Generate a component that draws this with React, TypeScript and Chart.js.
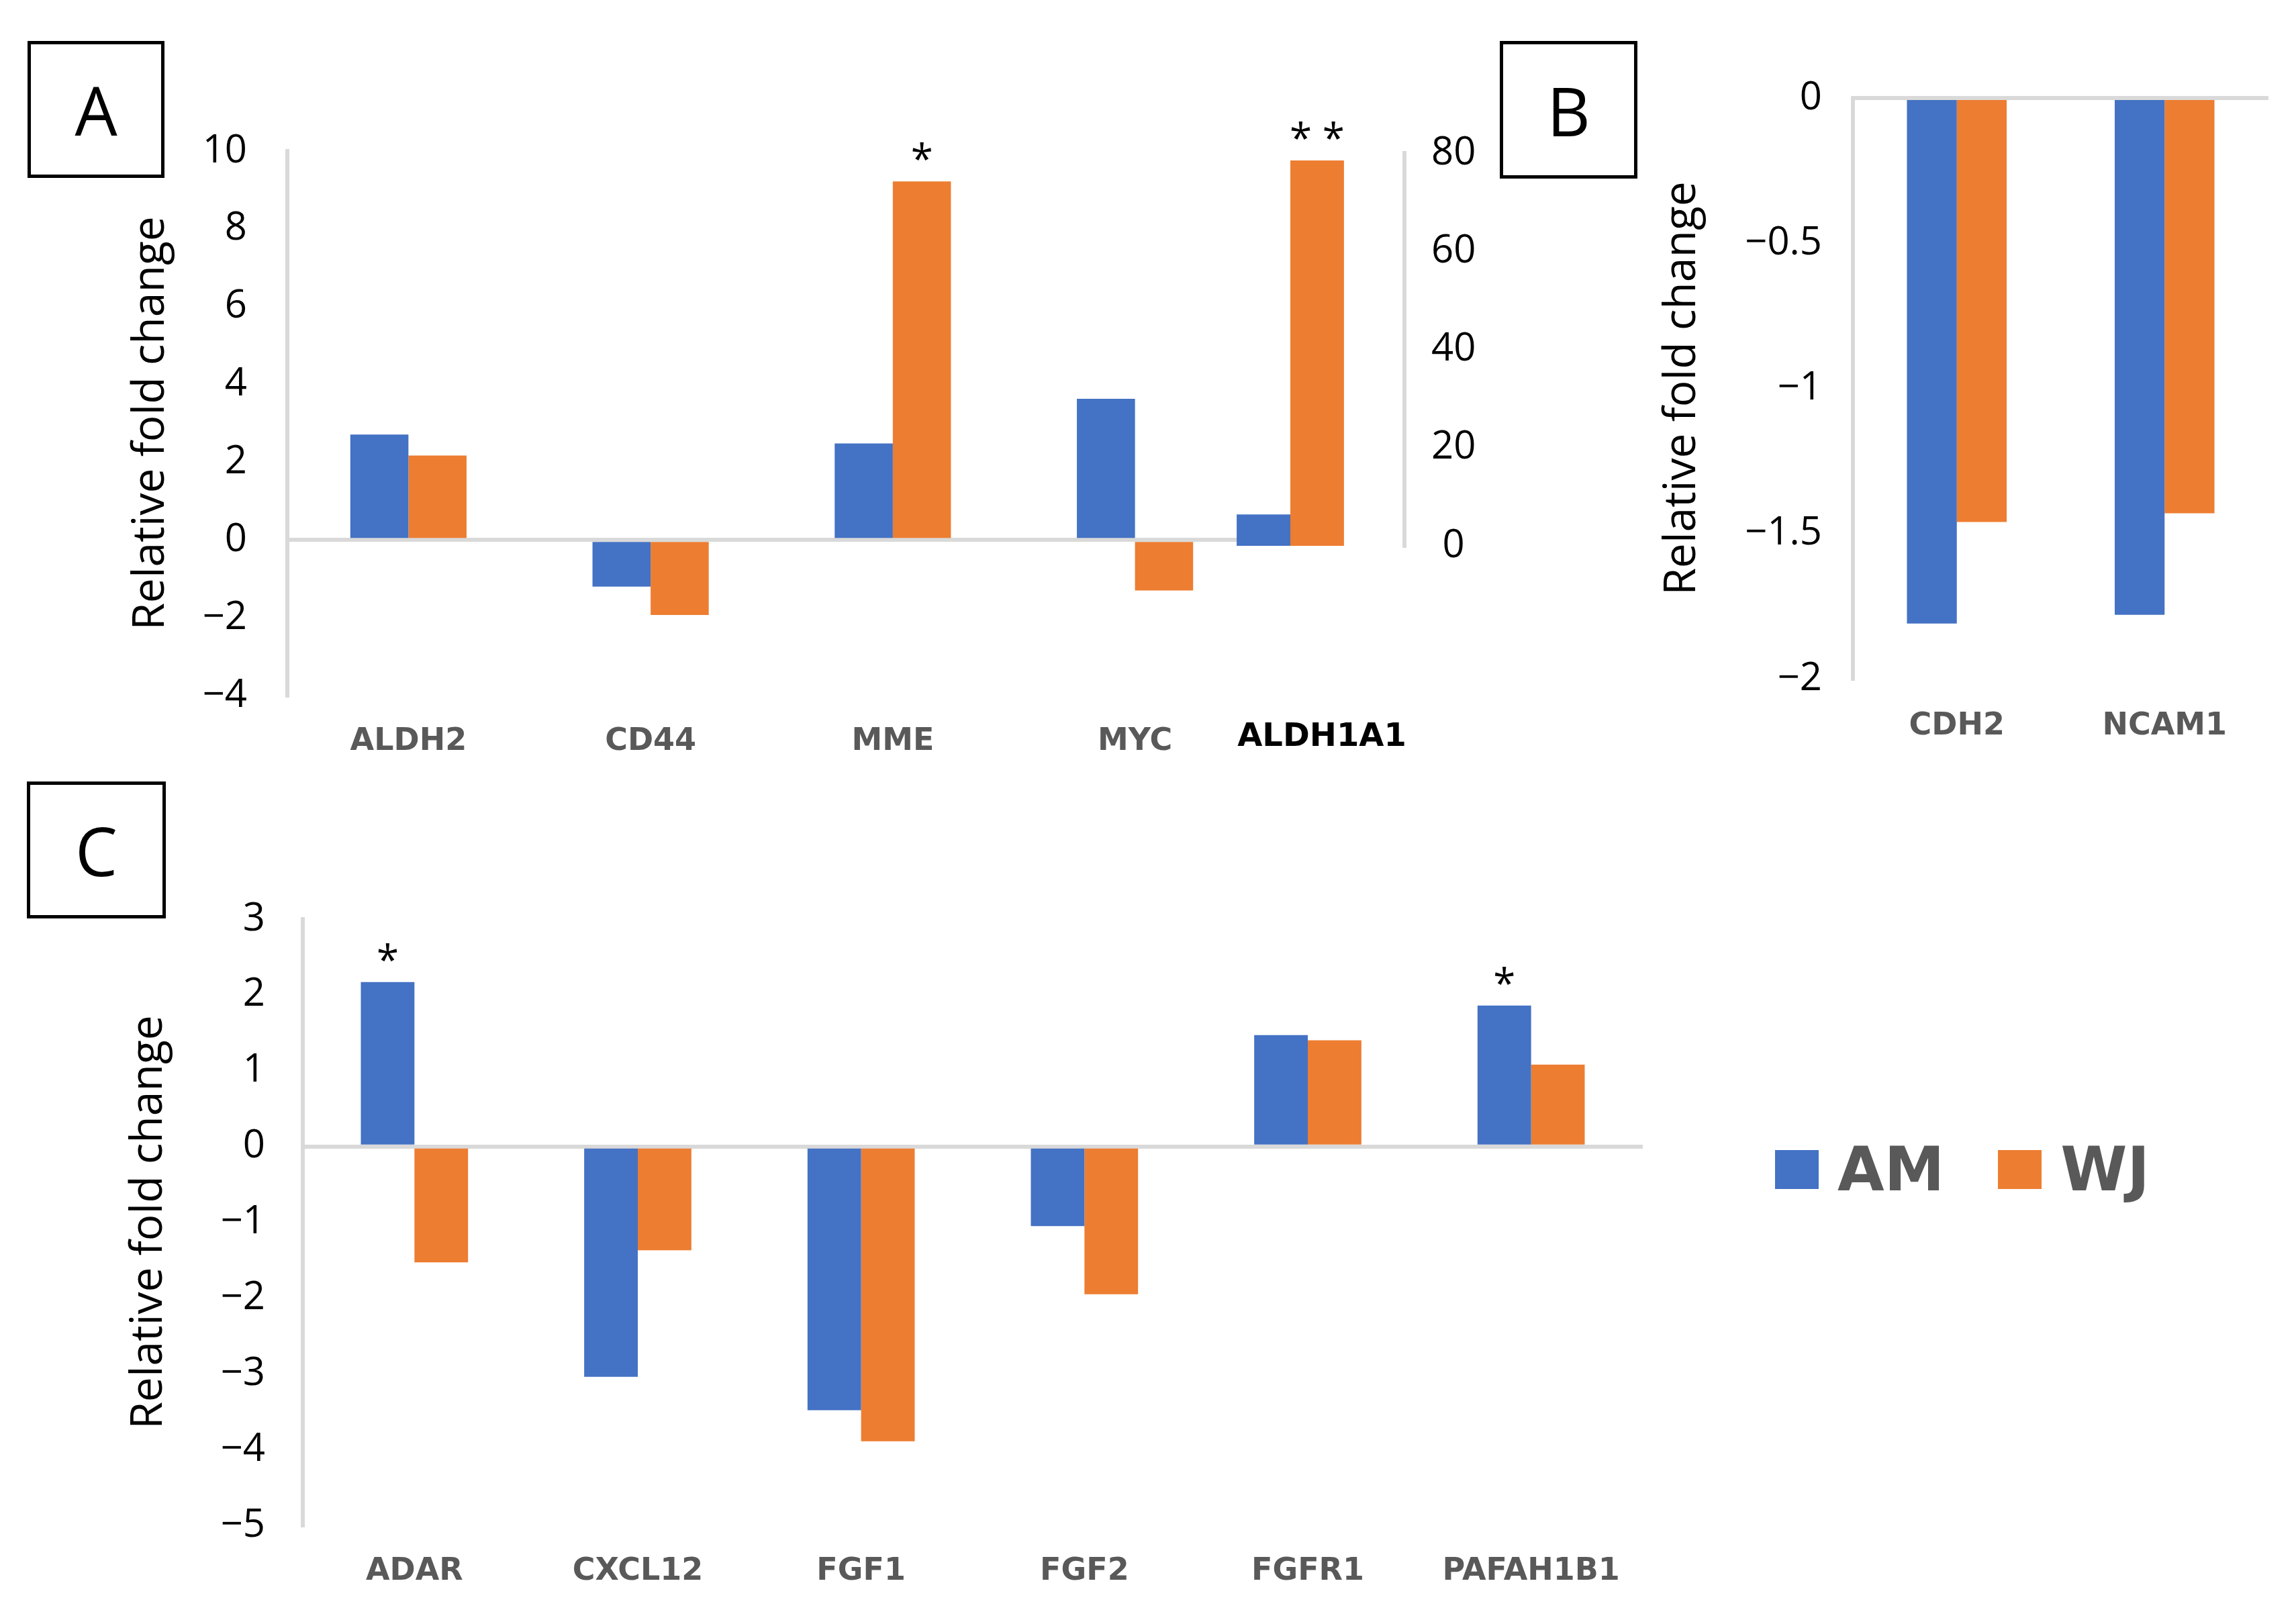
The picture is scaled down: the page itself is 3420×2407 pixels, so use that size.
import React, { useEffect, useRef } from 'react';
import { Chart, registerables } from 'chart.js';

Chart.register(...registerables);

// ---------------- data ----------------
const SERIES = ['AM', 'WJ'];
const SERIES_COLORS = ['#4472C4', '#ED7D31'];
const Y_TITLE = 'Relative fold change';

// Panel A (left axis)
const A_GENES = ['ALDH2', 'CD44', 'MME', 'MYC'];
const A_AM = [2.71, -1.2, 2.48, 3.63];
const A_WJ = [2.17, -1.93, 9.22, -1.3];
const A_SIG_AM = ['', '', '', ''];
const A_SIG_WJ = ['', '', '*', ''];
const A_Y = [-4, 10, 2]; // min, max, step

// Panel A (ALDH1A1, right axis)
const A2_GENES = ['ALDH1A1'];
const A2_AM = [6.4];
const A2_WJ = [78.5];
const A2_SIG_AM = [''];
const A2_SIG_WJ = ['* *'];
const A2_Y = [0, 80, 20];

// Panel B
const B_GENES = ['CDH2', 'NCAM1'];
const B_AM = [-1.81, -1.78];
const B_WJ = [-1.46, -1.43];
const B_SIG_AM = ['', ''];
const B_SIG_WJ = ['', ''];
const B_Y = [-2, 0, 0.5];

// Panel C
const C_GENES = ['ADAR', 'CXCL12', 'FGF1', 'FGF2', 'FGFR1', 'PAFAH1B1'];
const C_AM = [2.17, -3.04, -3.48, -1.05, 1.47, 1.86];
const C_WJ = [-1.53, -1.37, -3.89, -1.95, 1.4, 1.08];
const C_SIG_AM = ['*', '', '', '', '', '*'];
const C_SIG_WJ = ['', '', '', '', '', ''];
const C_Y = [-5, 3, 1];

// ---------------- styles / layout ----------------
const AXIS_GRAY = '#D9D9D9';
const LABEL_GRAY = '#595959';
const TICK_FONT = { family: "'Open Sans'", size: 58 };
const TITLE_FONT = { family: "'Open Sans'", size: 66 };

type Geom = {
  left: number; top: number; width: number; height: number;
  pad: { left: number; top: number; right: number; bottom: number };
  yWidth: number; xHeight: number; yTickGap: number; xTickGap: number;
  catPct: number; catFontSize: number;
  titlePad?: number; labelOffset?: number;
};

const GEOM: Record<string, Geom> = {
  A: { left: 0, top: 150, width: 1880, height: 1050, pad: { left: 0, top: 75, right: 9, bottom: 0 }, yWidth: 428, xHeight: 164, yTickGap: 60, xTickGap: 41, catPct: 0.48, catFontSize: 46, titlePad: 186 },
  A2: { left: 1700, top: 150, width: 560, height: 1050, pad: { left: 52, top: 78, right: 0, bottom: 0 }, yWidth: 168, xHeight: 387, yTickGap: 40, xTickGap: 257, catPct: 0.47, catFontSize: 48, labelOffset: 47 },
  B: { left: 2280, top: 60, width: 1140, height: 1140, pad: { left: 0, top: 86, right: 41, bottom: 0 }, yWidth: 480, xHeight: 189, yTickGap: 46, xTickGap: 43, catPct: 0.48, catFontSize: 46, titlePad: 187 },
  C: { left: 0, top: 1300, width: 2460, height: 1107, pad: { left: 0, top: 69, right: 13, bottom: 0 }, yWidth: 451, xHeight: 135, yTickGap: 56, xTickGap: 41, catPct: 0.48, catFontSize: 46, titlePad: 183 },
};

const BOXES = [
  { letter: 'A', left: 41, top: 61, w: 204, h: 204 },
  { letter: 'B', left: 2234, top: 61, w: 205, h: 205 },
  { letter: 'C', left: 40, top: 1164, w: 207, h: 204 },
];

function fmt(v: number): string {
  const s = String(Math.round(Number(v) * 100) / 100);
  return s.replace('-', '\u2212');
}

const sigPlugin = {
  id: 'sig',
  afterDatasetsDraw(chart: any, _args: any, opts: any) {
    const marks: string[][] = (opts && opts.marks) || [];
    const ctx = chart.ctx;
    ctx.save();
    ctx.font = `${opts.size}px 'Open Sans'`;
    ctx.fillStyle = '#000';
    ctx.textAlign = 'center';
    ctx.textBaseline = 'middle';
    marks.forEach((arr, di) => {
      const meta = chart.getDatasetMeta(di);
      arr.forEach((m, i) => {
        if (!m) return;
        const el = meta.data[i];
        if (!el) return;
        const p = el.getProps(['x', 'y', 'base'], true);
        const top = Math.min(p.y, p.base);
        ctx.fillText(m, p.x, top - opts.offset);
      });
    });
    ctx.restore();
  },
};

function makeConfig(
  g: Geom,
  labels: string[],
  am: number[],
  wj: number[],
  sigAm: string[],
  sigWj: string[],
  yr: number[],
  opts: { yPos: 'left' | 'right'; title: boolean; zeroLine: boolean; labelColor: string }
): any {
  return {
    type: 'bar',
    data: {
      labels,
      datasets: [
        { label: SERIES[0], data: am, backgroundColor: SERIES_COLORS[0], borderWidth: 0, categoryPercentage: g.catPct, barPercentage: 1 },
        { label: SERIES[1], data: wj, backgroundColor: SERIES_COLORS[1], borderWidth: 0, categoryPercentage: g.catPct, barPercentage: 1 },
      ],
    },
    options: {
      responsive: false,
      animation: false,
      events: [],
      layout: { padding: g.pad },
      plugins: {
        legend: { display: false },
        tooltip: { enabled: false },
        sig: { marks: [sigAm, sigWj], size: 60, offset: 29 },
      },
      scales: {
        x: {
          grid: { display: false, drawTicks: true, tickLength: g.xTickGap, tickColor: 'rgba(0,0,0,0)' },
          border: { display: false },
          ticks: {
            color: opts.labelColor,
            font: { family: "'DejaVu Sans'", size: g.catFontSize, weight: 'bold' },
            padding: 0,
            maxRotation: 0,
            minRotation: 0,
            autoSkip: false,
            labelOffset: g.labelOffset || 0,
          },
          afterFit: (s: any) => { s.height = g.xHeight; },
        },
        y: {
          position: opts.yPos,
          min: yr[0],
          max: yr[1],
          ticks: {
            stepSize: yr[2],
            color: '#000',
            font: TICK_FONT,
            padding: 0,
            crossAlign: opts.yPos === 'right' ? 'center' : 'near',
            callback: (v: any) => fmt(v),
          },
          grid: {
            display: opts.zeroLine,
            drawTicks: true,
            tickLength: g.yTickGap,
            tickColor: 'rgba(0,0,0,0)',
            lineWidth: 6,
            color: (c: any) => (c.tick && c.tick.value === 0 ? AXIS_GRAY : 'rgba(0,0,0,0)'),
          },
          border: { display: true, color: AXIS_GRAY, width: 6 },
          title: opts.title
            ? { display: true, text: Y_TITLE, color: '#000', font: TITLE_FONT, padding: { top: g.titlePad || 0, bottom: 0 } }
            : { display: false },
          afterFit: (s: any) => { s.width = g.yWidth; },
        },
      },
    },
    plugins: [sigPlugin],
  };
}

export default function App() {
  const refA = useRef<HTMLCanvasElement>(null);
  const refA2 = useRef<HTMLCanvasElement>(null);
  const refB = useRef<HTMLCanvasElement>(null);
  const refC = useRef<HTMLCanvasElement>(null);

  useEffect(() => {
    const charts: Chart[] = [];
    if (refA.current)
      charts.push(new Chart(refA.current, makeConfig(GEOM.A, A_GENES, A_AM, A_WJ, A_SIG_AM, A_SIG_WJ, A_Y, { yPos: 'left', title: true, zeroLine: true, labelColor: LABEL_GRAY })));
    if (refA2.current)
      charts.push(new Chart(refA2.current, makeConfig(GEOM.A2, A2_GENES, A2_AM, A2_WJ, A2_SIG_AM, A2_SIG_WJ, A2_Y, { yPos: 'right', title: false, zeroLine: false, labelColor: '#000' })));
    if (refB.current)
      charts.push(new Chart(refB.current, makeConfig(GEOM.B, B_GENES, B_AM, B_WJ, B_SIG_AM, B_SIG_WJ, B_Y, { yPos: 'left', title: true, zeroLine: true, labelColor: LABEL_GRAY })));
    if (refC.current)
      charts.push(new Chart(refC.current, makeConfig(GEOM.C, C_GENES, C_AM, C_WJ, C_SIG_AM, C_SIG_WJ, C_Y, { yPos: 'left', title: true, zeroLine: true, labelColor: LABEL_GRAY })));
    return () => { charts.forEach((c) => c.destroy()); };
  }, []);

  const canvasStyle = (g: Geom): React.CSSProperties => ({
    position: 'absolute', left: g.left, top: g.top, width: g.width, height: g.height,
  });

  return (
    <div style={{ position: 'absolute', left: 0, top: 0, width: 3420, height: 2407, background: '#fff', overflow: 'hidden' }}>
      <canvas ref={refA} width={GEOM.A.width} height={GEOM.A.height} style={canvasStyle(GEOM.A)} />
      <canvas ref={refA2} width={GEOM.A2.width} height={GEOM.A2.height} style={canvasStyle(GEOM.A2)} />
      <canvas ref={refB} width={GEOM.B.width} height={GEOM.B.height} style={canvasStyle(GEOM.B)} />
      <canvas ref={refC} width={GEOM.C.width} height={GEOM.C.height} style={canvasStyle(GEOM.C)} />
      {BOXES.map((b) => (
        <div
          key={b.letter}
          style={{
            position: 'absolute', left: b.left, top: b.top, width: b.w, height: b.h, boxSizing: 'border-box',
            border: '5px solid #000', display: 'flex', alignItems: 'center', justifyContent: 'center',
            fontFamily: "'Open Sans'", fontSize: 100, lineHeight: 1, color: '#000',
          }}
        >
          {b.letter}
        </div>
      ))}
      <div
        style={{
          position: 'absolute', left: 2644, top: 1697, height: 90, display: 'flex', alignItems: 'center',
          fontFamily: "'DejaVu Sans'", fontWeight: 'bold', fontSize: 90, lineHeight: 1, color: LABEL_GRAY, whiteSpace: 'nowrap',
        }}
      >
        {SERIES.map((s, i) => (
          <div key={s} style={{ display: 'flex', alignItems: 'center', marginRight: i === 0 ? 80 : 0 }}>
            <span style={{ display: 'inline-block', width: 65, height: 58, background: SERIES_COLORS[i], marginRight: 28 }} />
            <span>{s}</span>
          </div>
        ))}
      </div>
    </div>
  );
}
